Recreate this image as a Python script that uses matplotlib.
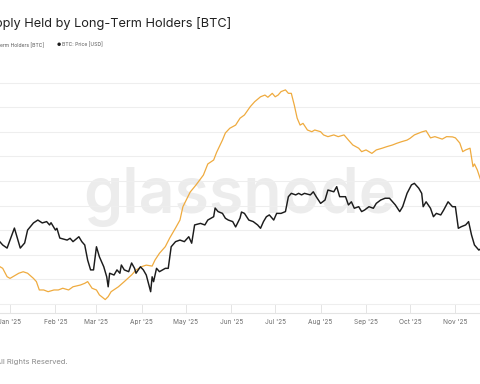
import numpy as np
import pandas as pd
import matplotlib
matplotlib.use("Agg")
import matplotlib.pyplot as plt
import matplotlib.dates as mdates

# --- Data -----------------------------------------------------------------
price_dates = ["2024-12-25","2024-12-27","2024-12-30","2025-01-01","2025-01-04","2025-01-08","2025-01-11","2025-01-13",
 "2025-01-17","2025-01-20","2025-01-23","2025-01-26","2025-01-28","2025-01-29","2025-02-01","2025-02-02","2025-02-04",
 "2025-02-09","2025-02-11","2025-02-13","2025-02-17","2025-02-19","2025-02-21","2025-02-23","2025-02-25","2025-02-27",
 "2025-03-01","2025-03-03","2025-03-06","2025-03-08","2025-03-09","2025-03-10","2025-03-13","2025-03-15","2025-03-17",
 "2025-03-18","2025-03-20","2025-03-23","2025-03-25","2025-03-27","2025-03-28","2025-03-31","2025-04-02","2025-04-04",
 "2025-04-07","2025-04-08","2025-04-09","2025-04-11","2025-04-13","2025-04-17","2025-04-19","2025-04-21","2025-04-24",
 "2025-04-27","2025-04-30","2025-05-03","2025-05-05","2025-05-07","2025-05-11","2025-05-14","2025-05-16","2025-05-20",
 "2025-05-21","2025-05-23","2025-05-26","2025-05-28","2025-05-30","2025-06-02","2025-06-04","2025-06-07","2025-06-08",
 "2025-06-10","2025-06-13","2025-06-16","2025-06-19","2025-06-21","2025-06-23","2025-06-25","2025-06-27","2025-06-30",
 "2025-07-02","2025-07-05","2025-07-08","2025-07-10","2025-07-12","2025-07-15","2025-07-17","2025-07-19","2025-07-21",
 "2025-07-25","2025-07-27","2025-07-29","2025-08-01","2025-08-04","2025-08-06","2025-08-10","2025-08-12","2025-08-14",
 "2025-08-18","2025-08-20","2025-08-22","2025-08-24","2025-08-27","2025-08-29","2025-08-31","2025-09-03","2025-09-06",
 "2025-09-08","2025-09-11","2025-09-14","2025-09-17","2025-09-21","2025-09-24","2025-09-26","2025-09-29","2025-10-02",
 "2025-10-04","2025-10-07","2025-10-09","2025-10-10","2025-10-12","2025-10-15","2025-10-17","2025-10-19","2025-10-22",
 "2025-10-24","2025-10-27","2025-10-30","2025-11-01","2025-11-03","2025-11-05","2025-11-08","2025-11-10","2025-11-12",
 "2025-11-14","2025-11-17","2025-11-19"]
price_usd = [98800,97300,95900,99500,104900,95900,98200,104000,107200,108500,107200,107800,106300,107300,104000,104800,
 100400,99500,100300,98800,101000,98800,97300,90500,86100,86100,96500,92000,87500,83000,78500,84600,83800,86100,84600,
 88300,86100,85300,89200,86800,84600,87500,86100,83800,76300,83000,80800,86800,85300,86800,86800,96500,98800,99500,
 98800,101000,98100,106300,107000,106300,108500,110000,113900,112300,111500,109300,108500,107800,105400,109400,112100,
 111500,108500,107800,106300,104800,107800,110000,110800,108500,111500,111500,112300,119000,120500,119800,120500,119800,
 120500,119800,121200,119000,116000,117500,122000,121200,123500,119000,119000,115300,116700,113800,114500,112300,113000,
 114500,113800,116000,117500,118300,118300,115300,112300,114500,120500,124300,125000,122800,120500,114500,116700,113800,
 110000,111500,110800,113000,116700,114500,114500,104800,105500,106300,107800,101800,97300,95000,95900]

lth_dates = ["2024-12-25","2024-12-27","2024-12-30","2025-01-01","2025-01-03","2025-01-07","2025-01-10","2025-01-13",
 "2025-01-17","2025-01-19","2025-01-21","2025-01-24","2025-01-27","2025-01-31","2025-02-03","2025-02-06","2025-02-10",
 "2025-02-13","2025-02-18","2025-02-21","2025-02-23","2025-02-26","2025-03-01","2025-03-03","2025-03-07","2025-03-09",
 "2025-03-11","2025-03-16","2025-03-20","2025-03-25","2025-03-28","2025-04-01","2025-04-04","2025-04-08","2025-04-10",
 "2025-04-13","2025-04-17","2025-04-20","2025-04-24","2025-04-27","2025-04-29","2025-05-04","2025-05-08","2025-05-13",
 "2025-05-16","2025-05-20","2025-05-22","2025-05-26","2025-05-28","2025-05-31","2025-06-04","2025-06-07","2025-06-10",
 "2025-06-14","2025-06-17","2025-06-21","2025-06-24","2025-06-26","2025-06-29","2025-07-01","2025-07-03","2025-07-05",
 "2025-07-08","2025-07-10","2025-07-12","2025-07-14","2025-07-16","2025-07-18","2025-07-20","2025-07-23","2025-07-26",
 "2025-07-28","2025-08-01","2025-08-03","2025-08-06","2025-08-10","2025-08-13","2025-08-17","2025-08-20","2025-08-23",
 "2025-08-27","2025-08-29","2025-09-01","2025-09-05","2025-09-08","2025-09-12","2025-09-15","2025-09-19","2025-09-22",
 "2025-09-25","2025-09-29","2025-10-01","2025-10-04","2025-10-09","2025-10-12","2025-10-15","2025-10-18","2025-10-23",
 "2025-10-26","2025-10-30","2025-11-01","2025-11-04","2025-11-06","2025-11-08","2025-11-11","2025-11-13","2025-11-14",
 "2025-11-16","2025-11-19"]
lth_supply_m = [14.052,14.045,14.011,14.004,14.011,14.025,14.031,14.025,14.004,13.991,13.957,13.957,13.95,13.957,13.957,
 13.964,13.957,13.97,13.977,13.984,13.991,13.964,13.957,13.937,13.918,13.93,13.95,13.97,13.991,14.018,14.038,14.052,
 14.058,14.054,14.079,14.106,14.133,14.168,14.209,14.241,14.295,14.355,14.384,14.424,14.469,14.485,14.516,14.566,14.595,
 14.614,14.627,14.655,14.668,14.702,14.722,14.742,14.749,14.74,14.756,14.742,14.749,14.763,14.77,14.756,14.756,14.709,
 14.655,14.627,14.634,14.607,14.6,14.607,14.6,14.587,14.58,14.587,14.58,14.587,14.566,14.546,14.533,14.519,14.526,14.512,
 14.526,14.533,14.539,14.546,14.553,14.559,14.566,14.573,14.587,14.599,14.604,14.575,14.58,14.57,14.58,14.579,14.575,
 14.554,14.519,14.526,14.533,14.458,14.469,14.444,14.39]

month_ticks = ["2025-01-01","2025-02-01","2025-03-01","2025-04-01","2025-05-01","2025-06-01",
               "2025-07-01","2025-08-01","2025-09-01","2025-10-01","2025-11-01"]

title = "Supply Held by Long-Term Holders [BTC]"
legend_lth = "Supply Held by Long-Term Holders [BTC]"
legend_price = "BTC: Price [USD]"
footer = "\u00a9 2025 Glassnode. All Rights Reserved."

# --- Style ----------------------------------------------------------------
plt.rcParams['font.family'] = ['Inter', 'DejaVu Sans']
GOLD = "#efab3f"
BLACK = "#1c1c1c"
GRID = "#eeeeee"

W, H = 480, 384
fig = plt.figure(figsize=(4.8, 3.84), dpi=100)
fig.patch.set_facecolor("white")

ax_top_px, ax_bot_px = 70, 313
ax = fig.add_axes([0, (H - ax_bot_px) / H, 1, (ax_bot_px - ax_top_px) / H])
ax2 = ax.twinx()
ax.set_zorder(1)
ax2.set_zorder(2)
ax.patch.set_visible(False)

ld = pd.to_datetime(lth_dates)
pdd = pd.to_datetime(price_dates)

ax.plot(ld, lth_supply_m, color=GOLD, lw=0.9, zorder=3, solid_joinstyle="round")
ax2.plot(pdd, price_usd, color=BLACK, lw=1.05, zorder=3, solid_joinstyle="round")

ax.set_xlim(pd.Timestamp("2024-12-25 04:00"), pd.Timestamp("2025-11-17 19:00"))
ax.set_ylim(13.8634, 14.8508)
ax2.set_ylim(66730, 175930)

ax.set_yticks(np.round(np.arange(13.9, 14.85, 0.1), 2))
ax.yaxis.grid(True, color=GRID, lw=0.8)
ax.set_axisbelow(True)
ax.tick_params(axis='y', left=False, labelleft=False)
ax2.tick_params(axis='y', right=False, labelright=False)
ax2.set_yticks([])

ax.set_xticks(pd.to_datetime(month_ticks))
ax.xaxis.set_major_formatter(mdates.DateFormatter("%b '%y"))
ax.tick_params(axis='x', direction='in', length=6.5, width=0.7, color="#e4e4e4",
               labelsize=4.7, labelcolor="#6b6b6b", pad=4.5)
for a in (ax, ax2):
    for s in ("top", "left", "right", "bottom"):
        a.spines[s].set_visible(False)
ax.spines["bottom"].set_visible(True)
ax.spines["bottom"].set_color("#e4e4e4")
ax.spines["bottom"].set_linewidth(0.8)

# watermark
ax.text(240 / W, 1 - 213 / H, "glassnode", transform=fig.transFigure, ha="center", va="baseline",
        fontsize=45, color="#ececec", fontweight="semibold", zorder=0.5)

# title / legend / footer
fig.text(231 / W, 1 - 23 / H, title, ha="right", va="center", fontsize=9.2, color="#222222")
fig.text(44 / W, 1 - 45 / H, legend_lth, ha="right", va="center", fontsize=3.6, color="#555555")
fig.text(57 / W, 1 - 45 / H, "\u25cf", ha="left", va="center", fontsize=3.4, color=BLACK)
fig.text(62 / W, 1 - 45 / H, legend_price, ha="left", va="center", fontsize=3.6, color="#555555")
fig.text(68 / W, 1 - 362 / H, footer, ha="right", va="center", fontsize=5.5, color="#8a8a8a")

fig.savefig("out.png", dpi=100, facecolor="white")
